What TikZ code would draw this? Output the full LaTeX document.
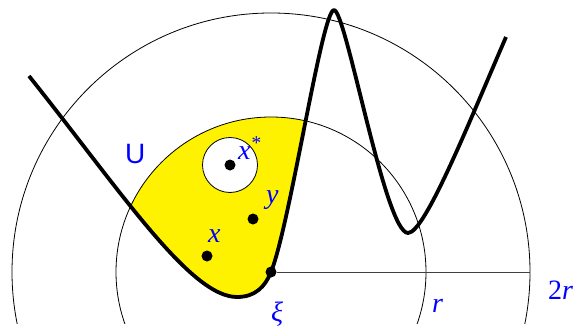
\documentclass[tikz,border=0pt]{standalone}
\usepackage{fontspec}
\setmainfont{Liberation Serif}
\setsansfont{Liberation Sans}
\newfontfamily\lblfont{Liberation Serif}
\newfontfamily\ufont{Liberation Sans}
\tikzset{
  lbl/.style={text=blue,font=\lblfont\fontsize{28}{32}\selectfont\itshape,anchor=base west,inner sep=0pt},
  dot/.style={circle,fill=black,inner sep=0pt,minimum size=11pt},
  thin circ/.style={line width=0.8pt}
}
\begin{document}
\begin{tikzpicture}[x=1pt,y=-1pt]
    \useasboundingbox (0,0) rectangle (583,329);

    % yellow region: inside the disc of radius r, above the curve
    \begin{scope}
        \clip (271,272) circle (155);
        \fill[yellow] (29,76) .. controls (120,190) and (190,297) .. (237,297)
            .. controls (255,297) and (265,287) .. (271,272)
            .. controls (290,225) and (322,10) .. (334,10)
            -- (334,-100) -- (29,-100) -- cycle;
    \end{scope}
    \filldraw[fill=white,thin circ] (230,165) circle (27.5);

    % the two arcs
    \begin{scope}
        \clip (0,0) rectangle (583,323);
        \draw[thin circ] (271,272) circle (155);
        \draw[thin circ] (271,272) circle (259);
    \end{scope}

    \node[dot] (xi) at (271,272) {};
    \node[dot] (xs) at (230,165) {};
    \node[dot] (yp) at (253,219) {};
    \node[dot] (xp) at (207,256) {};
    \coordinate (rr) at (530,272);

    \draw[black!75, line width=0.7pt] (xi) -- (rr);

    % the curve
    \draw[line width=3.8pt, line join=round] (29,76) .. controls (120,190) and (190,297) .. (237,297)
        .. controls (255,297) and (265,287) .. (271,272)
        .. controls (290,225) and (322,10) .. (334,10)
        .. controls (346,10) and (385,233) .. (408,233)
        .. controls (425,233) and (470,120) .. (506,37);

    \node[lbl] (ulbl) at (125,163) {\ufont\upshape U};
    \node[lbl] (xslbl) at (238,159) {x\textsuperscript{*}};
    \node[lbl] (ylbl) at (266,203) {y};
    \node[lbl] (xlbl) at (208,242) {x};
    \node[lbl] (xilbl) at (271,321) {ξ};
    \node[lbl] (rlbl) at (432,312) {r};
    \node[lbl] (twor) at (548,299) {{\upshape 2}r};
\end{tikzpicture}
\end{document}
